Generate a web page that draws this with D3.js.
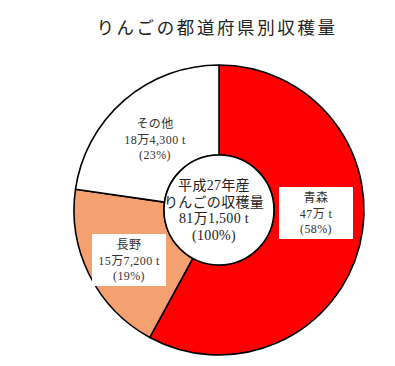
<!DOCTYPE html>
<html><head><meta charset="utf-8">
<script src="https://cdn.jsdelivr.net/npm/d3@7"></script>
<style>
html,body{margin:0;padding:0;background:#fff;}
svg{display:block;}
</style>
</head><body>
<svg id="c" width="395" height="366"></svg>
<script>
// ---- data ----
const title = "りんごの都道府県別収穫量";
const categories = ["青森", "長野", "その他"];
const values = [470000, 157200, 184300];
const valueLabels = ["47万 t", "15万7,200 t", "18万4,300 t"];
const percentLabels = ["(58%)", "(19%)", "(23%)"];
const centerLines = ["平成27年産", "りんごの収穫量", "81万1,500 t", "(100%)"];

// ---- styles / layout ----
const colors = ["#ff0000", "#f5a071", "#ffffff"];
const boxed = [true, true, false];
const labelPos = [[316, 213], [129, 260], [155, 139]]; // label centres
const cx = 219, cy = 210, R = 145, r0 = 55;
const font = "'Liberation Serif','Noto Sans CJK JP',serif";

const svg = d3.select("#c");

svg.append("text")
  .attr("x", 217).attr("y", 34)
  .attr("text-anchor", "middle")
  .attr("font-family", "'Noto Sans CJK JP',sans-serif")
  .attr("font-size", 17.5)
  .attr("letter-spacing", 2.6)
  .attr("fill", "#222")
  .text(title);

const pie = d3.pie().sort(null).value(d => d)(values);
const arc = d3.arc().innerRadius(r0).outerRadius(R);

const g = svg.append("g").attr("transform", `translate(${cx},${cy})`);
g.selectAll("path.slice").data(pie).join("path")
  .attr("class", "slice")
  .attr("d", arc)
  .attr("fill", (d, i) => colors[i])
  .attr("stroke", "#000")
  .attr("stroke-width", 1.6)
  .attr("stroke-linejoin", "round");

g.append("circle").attr("r", r0).attr("fill", "#fff")
  .attr("stroke", "#000").attr("stroke-width", 1.6);

// centre text
const lh = 16.5;
centerLines.forEach((t, i) => {
  g.append("text")
    .attr("x", -5).attr("y", (i - 1.5) * lh + 5)
    .attr("text-anchor", "middle")
    .attr("font-family", font)
    .attr("font-size", 14)
    .attr("letter-spacing", 0.3)
    .attr("fill", "#222")
    .text(t);
});

// slice labels
categories.forEach((c, i) => {
  const [x, y] = labelPos[i];
  const lg = svg.append("g").attr("transform", `translate(${x},${y})`);
  if (boxed[i]) {
    lg.append("rect").attr("x", -37).attr("y", -26).attr("width", 74).attr("height", 52)
      .attr("fill", "#fff");
  }
  [c, valueLabels[i], percentLabels[i]].forEach((t, j) => {
    lg.append("text")
      .attr("x", 0).attr("y", (j - 1) * 15.5 + 4.5)
      .attr("text-anchor", "middle")
      .attr("font-family", font)
      .attr("font-size", 12)
      .attr("letter-spacing", 0.4)
      .attr("fill", "#333")
      .text(t);
  });
});
</script>
</body></html>
